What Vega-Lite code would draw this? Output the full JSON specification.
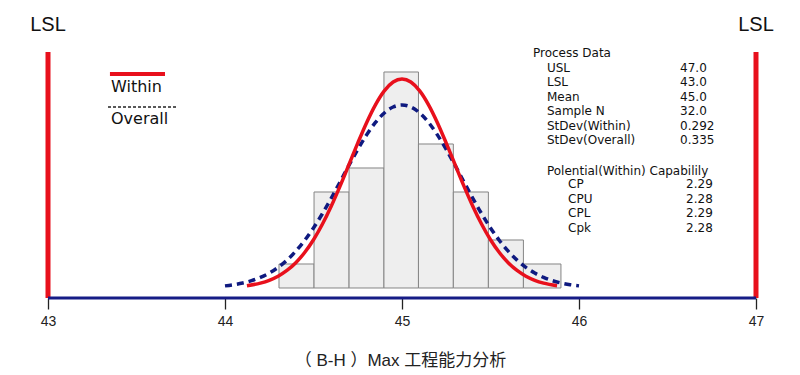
{
  "$schema": "https://vega.github.io/schema/vega-lite/v6.json",
  "width": 800,
  "height": 298,
  "autosize": {"type": "pad"},
  "padding": 0,
  "background": "white",
  "config": {"view": {"stroke": null}},
  "datasets": {
    "bins": [
      {"x0": 44.305, "x1": 44.503, "count": 1},
      {"x0": 44.503, "x1": 44.701, "count": 4},
      {"x0": 44.701, "x1": 44.898, "count": 5},
      {"x0": 44.898, "x1": 45.093, "count": 9},
      {"x0": 45.093, "x1": 45.290, "count": 6},
      {"x0": 45.290, "x1": 45.488, "count": 4},
      {"x0": 45.488, "x1": 45.686, "count": 2},
      {"x0": 45.686, "x1": 45.898, "count": 1}
    ],
    "within": [
      {"x": 44.124, "y": 0.097}, {"x": 44.2, "y": 0.204}, {"x": 44.25, "y": 0.322}, {"x": 44.3, "y": 0.492},
      {"x": 44.35, "y": 0.731}, {"x": 44.4, "y": 1.055}, {"x": 44.45, "y": 1.478}, {"x": 44.5, "y": 2.011},
      {"x": 44.55, "y": 2.656}, {"x": 44.6, "y": 3.408}, {"x": 44.65, "y": 4.247}, {"x": 44.7, "y": 5.138},
      {"x": 44.75, "y": 6.037}, {"x": 44.8, "y": 6.889}, {"x": 44.85, "y": 7.633}, {"x": 44.9, "y": 8.214},
      {"x": 44.95, "y": 8.583}, {"x": 45.0, "y": 8.71}, {"x": 45.05, "y": 8.583}, {"x": 45.1, "y": 8.214},
      {"x": 45.15, "y": 7.633}, {"x": 45.2, "y": 6.889}, {"x": 45.25, "y": 6.037}, {"x": 45.3, "y": 5.138},
      {"x": 45.35, "y": 4.247}, {"x": 45.4, "y": 3.408}, {"x": 45.45, "y": 2.656}, {"x": 45.5, "y": 2.011},
      {"x": 45.55, "y": 1.478}, {"x": 45.6, "y": 1.055}, {"x": 45.65, "y": 0.731}, {"x": 45.7, "y": 0.492},
      {"x": 45.75, "y": 0.322}, {"x": 45.8, "y": 0.204}, {"x": 45.876, "y": 0.097}
    ],
    "overall": [
      {"x": 44.0, "y": 0.089}, {"x": 44.05, "y": 0.137}, {"x": 44.1, "y": 0.207}, {"x": 44.15, "y": 0.305},
      {"x": 44.2, "y": 0.441}, {"x": 44.25, "y": 0.622}, {"x": 44.3, "y": 0.859}, {"x": 44.35, "y": 1.161},
      {"x": 44.4, "y": 1.534}, {"x": 44.45, "y": 1.981}, {"x": 44.5, "y": 2.503}, {"x": 44.55, "y": 3.093},
      {"x": 44.6, "y": 3.738}, {"x": 44.65, "y": 4.418}, {"x": 44.7, "y": 5.107}, {"x": 44.75, "y": 5.772},
      {"x": 44.8, "y": 6.38}, {"x": 44.85, "y": 6.898}, {"x": 44.9, "y": 7.293}, {"x": 44.95, "y": 7.541},
      {"x": 45.0, "y": 7.625}, {"x": 45.05, "y": 7.541}, {"x": 45.1, "y": 7.293}, {"x": 45.15, "y": 6.898},
      {"x": 45.2, "y": 6.38}, {"x": 45.25, "y": 5.772}, {"x": 45.3, "y": 5.107}, {"x": 45.35, "y": 4.418},
      {"x": 45.4, "y": 3.738}, {"x": 45.45, "y": 3.093}, {"x": 45.5, "y": 2.503}, {"x": 45.55, "y": 1.981},
      {"x": 45.6, "y": 1.534}, {"x": 45.65, "y": 1.161}, {"x": 45.7, "y": 0.859}, {"x": 45.75, "y": 0.622},
      {"x": 45.8, "y": 0.441}, {"x": 45.85, "y": 0.305}, {"x": 45.9, "y": 0.207}, {"x": 45.95, "y": 0.137},
      {"x": 46.0, "y": 0.089}
    ],
    "limits": [
      {"label": "LSL", "x": 43},
      {"label": "LSL", "x": 47}
    ]
  },
  "layer": [
    {
      "data": {"name": "bins"},
      "mark": {"type": "rect", "fill": "#eeeeee", "stroke": "#858585", "strokeWidth": 1},
      "encoding": {
        "x": {
          "field": "x0", "type": "quantitative",
          "scale": {"domain": [42.7288, 47.2486], "nice": false, "zero": false},
          "axis": {
            "values": [43, 44, 45, 46, 47], "format": "d",
            "domain": false, "grid": false,
            "ticks": true, "tickColor": "#222222", "tickSize": 11, "tickWidth": 1.3,
            "labelFont": "Liberation Sans", "labelFontSize": 14, "labelColor": "#222222",
            "labelPadding": 5, "labelFlush": false, "labelOverlap": false,
            "title": "（ B-H ）Max 工程能力分析",
            "titleFont": "Liberation Sans, Noto Sans CJK SC", "titleFontSize": 17,
            "titleFontWeight": "normal", "titleColor": "#222222", "titlePadding": 24
          }
        },
        "x2": {"field": "x1"},
        "y": {"field": "count", "type": "quantitative",
              "scale": {"domain": [-0.41667, 12], "nice": false, "zero": false}, "axis": null},
        "y2": {"datum": 0}
      }
    },
    {
      "data": {"name": "overall"},
      "mark": {"type": "line", "color": "#0f1a80", "strokeWidth": 3.5, "strokeDash": [7, 5], "strokeCap": "butt", "interpolate": "monotone"},
      "encoding": {
        "x": {"field": "x", "type": "quantitative", "scale": {"domain": [42.7288, 47.2486], "nice": false, "zero": false}},
        "y": {"field": "y", "type": "quantitative", "scale": {"domain": [-0.41667, 12], "nice": false, "zero": false}, "axis": null}
      }
    },
    {
      "data": {"name": "within"},
      "mark": {"type": "line", "color": "#e8101c", "strokeWidth": 3.5, "interpolate": "monotone"},
      "encoding": {
        "x": {"field": "x", "type": "quantitative", "scale": {"domain": [42.7288, 47.2486], "nice": false, "zero": false}},
        "y": {"field": "y", "type": "quantitative", "scale": {"domain": [-0.41667, 12], "nice": false, "zero": false}, "axis": null}
      }
    },
    {
      "data": {"name": "limits"},
      "mark": {"type": "rule", "color": "#e8101c", "strokeWidth": 5},
      "encoding": {
        "x": {"field": "x", "type": "quantitative", "scale": {"domain": [42.7288, 47.2486], "nice": false, "zero": false}},
        "y": {"datum": 9.833, "type": "quantitative", "scale": {"domain": [-0.41667, 12], "nice": false, "zero": false}, "axis": null},
        "y2": {"datum": -0.41667}
      }
    },
    {
      "data": {"name": "limits"},
      "mark": {"type": "text", "font": "Liberation Sans Narrow, Liberation Sans", "fontSize": 20, "color": "#111111", "align": "center", "baseline": "middle"},
      "encoding": {
        "x": {"field": "x", "type": "quantitative", "scale": {"domain": [42.7288, 47.2486], "nice": false, "zero": false}},
        "y": {"datum": 10.958, "type": "quantitative", "scale": {"domain": [-0.41667, 12], "nice": false, "zero": false}, "axis": null},
        "text": {"field": "label"}
      }
    },
    {
      "data": {"values": [{}]},
      "mark": {"type": "rule", "color": "#161c86", "strokeWidth": 3},
      "encoding": {
        "x": {"datum": 43, "type": "quantitative", "scale": {"domain": [42.7288, 47.2486], "nice": false, "zero": false}},
        "x2": {"datum": 47},
        "y": {"datum": -0.41667, "type": "quantitative", "scale": {"domain": [-0.41667, 12], "nice": false, "zero": false}, "axis": null}
      }
    },
    {
      "data": {"values": [{}]},
      "mark": {"type": "rule", "color": "#e8101c", "strokeWidth": 4},
      "encoding": {
        "x": {"datum": 43.35, "type": "quantitative", "scale": {"domain": [42.7288, 47.2486], "nice": false, "zero": false}},
        "x2": {"datum": 43.661},
        "y": {"datum": 8.917, "type": "quantitative", "scale": {"domain": [-0.41667, 12], "nice": false, "zero": false}, "axis": null}
      }
    },
    {
      "data": {"values": [{}]},
      "mark": {"type": "rule", "color": "#222222", "strokeWidth": 1.3, "strokeDash": [3, 2]},
      "encoding": {
        "x": {"datum": 43.339, "type": "quantitative", "scale": {"domain": [42.7288, 47.2486], "nice": false, "zero": false}},
        "x2": {"datum": 43.729},
        "y": {"datum": 7.542, "type": "quantitative", "scale": {"domain": [-0.41667, 12], "nice": false, "zero": false}, "axis": null}
      }
    },
    {
      "data": {"values": [{}]},
      "mark": {"type": "text", "text": ["Within", "Overall"], "lineHeight": 32, "font": "DejaVu Sans", "fontSize": 16, "color": "#111111", "align": "left", "baseline": "middle"},
      "encoding": {
        "x": {"datum": 43.356, "type": "quantitative", "scale": {"domain": [42.7288, 47.2486], "nice": false, "zero": false}},
        "y": {"datum": 8.375, "type": "quantitative", "scale": {"domain": [-0.41667, 12], "nice": false, "zero": false}, "axis": null}
      }
    },
    {
      "data": {"values": [{}]},
      "mark": {"type": "text", "text": "Process Data", "font": "DejaVu Sans", "fontSize": 12, "color": "#111111", "align": "left", "baseline": "middle"},
      "encoding": {
        "x": {"datum": 45.74, "type": "quantitative", "scale": {"domain": [42.7288, 47.2486], "nice": false, "zero": false}},
        "y": {"datum": 9.792, "type": "quantitative", "scale": {"domain": [-0.41667, 12], "nice": false, "zero": false}, "axis": null}
      }
    },
    {
      "data": {"values": [{}]},
      "mark": {"type": "text", "text": ["USL", "LSL", "Mean", "Sample N", "StDev(Within)", "StDev(Overall)"], "lineHeight": 14.4, "font": "DejaVu Sans", "fontSize": 12, "color": "#111111", "align": "left", "baseline": "middle"},
      "encoding": {
        "x": {"datum": 45.819, "type": "quantitative", "scale": {"domain": [42.7288, 47.2486], "nice": false, "zero": false}},
        "y": {"datum": 9.167, "type": "quantitative", "scale": {"domain": [-0.41667, 12], "nice": false, "zero": false}, "axis": null}
      }
    },
    {
      "data": {"values": [{}]},
      "mark": {"type": "text", "text": ["47.0", "43.0", "45.0", "32.0", " 0.292", " 0.335"], "lineHeight": 14.4, "font": "DejaVu Sans", "fontSize": 12, "color": "#111111", "align": "left", "baseline": "middle"},
      "encoding": {
        "x": {"datum": 46.571, "type": "quantitative", "scale": {"domain": [42.7288, 47.2486], "nice": false, "zero": false}},
        "y": {"datum": 9.167, "type": "quantitative", "scale": {"domain": [-0.41667, 12], "nice": false, "zero": false}, "axis": null}
      }
    },
    {
      "data": {"values": [{}]},
      "mark": {"type": "text", "text": "Polential(Within) Capabilily", "font": "DejaVu Sans", "fontSize": 12, "color": "#111111", "align": "left", "baseline": "middle"},
      "encoding": {
        "x": {"datum": 45.819, "type": "quantitative", "scale": {"domain": [42.7288, 47.2486], "nice": false, "zero": false}},
        "y": {"datum": 4.875, "type": "quantitative", "scale": {"domain": [-0.41667, 12], "nice": false, "zero": false}, "axis": null}
      }
    },
    {
      "data": {"values": [{}]},
      "mark": {"type": "text", "text": ["CP", "CPU", "CPL", "Cpk"], "lineHeight": 14.7, "font": "DejaVu Sans", "fontSize": 12, "color": "#111111", "align": "left", "baseline": "middle"},
      "encoding": {
        "x": {"datum": 45.938, "type": "quantitative", "scale": {"domain": [42.7288, 47.2486], "nice": false, "zero": false}},
        "y": {"datum": 4.333, "type": "quantitative", "scale": {"domain": [-0.41667, 12], "nice": false, "zero": false}, "axis": null}
      }
    },
    {
      "data": {"values": [{}]},
      "mark": {"type": "text", "text": ["2.29", "2.28", "2.29", "2.28"], "lineHeight": 14.7, "font": "DejaVu Sans", "fontSize": 12, "color": "#111111", "align": "left", "baseline": "middle"},
      "encoding": {
        "x": {"datum": 46.605, "type": "quantitative", "scale": {"domain": [42.7288, 47.2486], "nice": false, "zero": false}},
        "y": {"datum": 4.333, "type": "quantitative", "scale": {"domain": [-0.41667, 12], "nice": false, "zero": false}, "axis": null}
      }
    }
  ]
}
